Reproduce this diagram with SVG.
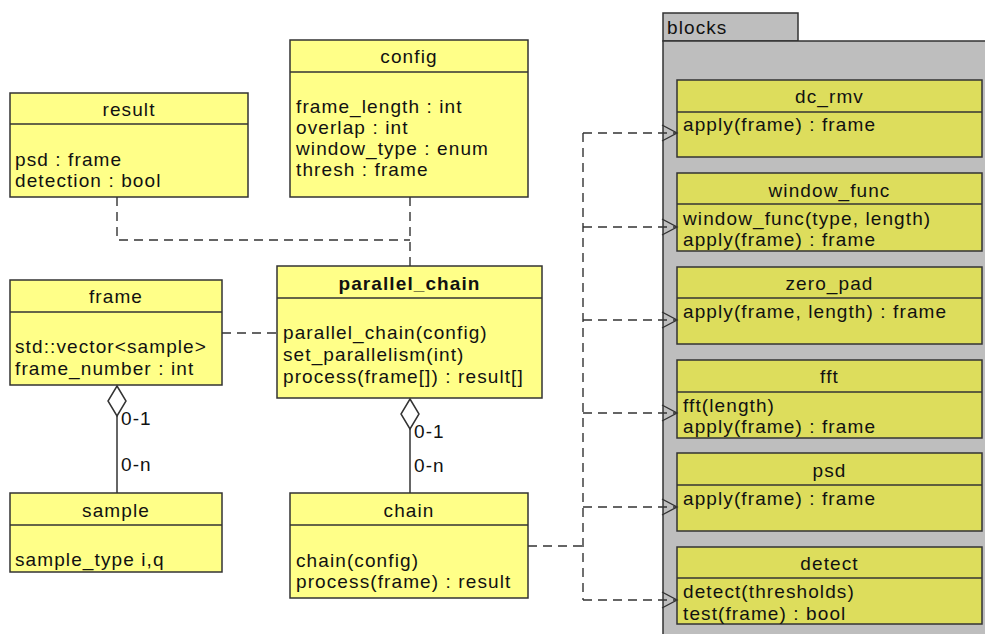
<svg xmlns="http://www.w3.org/2000/svg" width="985" height="634" viewBox="0 0 985 634">
<style>
text{font-family:"Liberation Sans",Arial,sans-serif;font-size:19px;letter-spacing:1.1px;fill:#111}
.h{text-anchor:middle}
.b{font-weight:bold}
.cls{fill:#ffff88;stroke:#333;stroke-width:1.5}
.blk{fill:#dddd5c;stroke:#333;stroke-width:1.5}
.div{stroke:#333;stroke-width:1.5}
.pkg{fill:#bebebe;stroke:#333;stroke-width:1.5}
.dash{fill:none;stroke:#333;stroke-width:1.4;stroke-dasharray:9,6}
.solid{fill:none;stroke:#333;stroke-width:1.5}
.dia{fill:#fff;stroke:#333;stroke-width:1.5}
.arr{fill:none;stroke:#333;stroke-width:1.4}
</style>
<g id="blocks">
<rect class="pkg" x="663" y="13" width="135" height="28"/>
<rect class="pkg" x="663" y="41" width="330" height="600"/>
<text x="667" y="34">blocks</text>
</g>
<g id="result">
<rect class="cls" x="10" y="93" width="238" height="104"/>
<line class="div" x1="10" y1="124" x2="248" y2="124"/>
<text class="h" x="129" y="116">result</text>
<text x="15" y="166">psd : frame</text>
<text x="15" y="187">detection : bool</text>
</g>
<g id="config">
<rect class="cls" x="290" y="40" width="238" height="157"/>
<line class="div" x1="290" y1="72" x2="528" y2="72"/>
<text class="h" x="409" y="63">config</text>
<text x="296" y="113">frame_length : int</text>
<text x="296" y="134">overlap : int</text>
<text x="296" y="155">window_type : enum</text>
<text x="296" y="176">thresh : frame</text>
</g>
<g id="frame">
<rect class="cls" x="10" y="280" width="212" height="105"/>
<line class="div" x1="10" y1="312" x2="222" y2="312"/>
<text class="h" x="116" y="303">frame</text>
<text x="15" y="353">std::vector&lt;sample&gt;</text>
<text x="15" y="375">frame_number : int</text>
</g>
<g id="sample">
<rect class="cls" x="10" y="493" width="212" height="79"/>
<line class="div" x1="10" y1="525" x2="222" y2="525"/>
<text class="h" x="116" y="517">sample</text>
<text x="15" y="566">sample_type i,q</text>
</g>
<g id="parallel_chain">
<rect class="cls" x="277" y="266" width="265" height="132"/>
<line class="div" x1="277" y1="298" x2="542" y2="298"/>
<text class="h b" x="409.5" y="290">parallel_chain</text>
<text x="283" y="339">parallel_chain(config)</text>
<text x="283" y="361">set_parallelism(int)</text>
<text x="283" y="383">process(frame[]) : result[]</text>
</g>
<g id="chain">
<rect class="cls" x="290" y="493" width="238" height="105"/>
<line class="div" x1="290" y1="525" x2="528" y2="525"/>
<text class="h" x="409" y="517">chain</text>
<text x="296" y="567">chain(config)</text>
<text x="296" y="588">process(frame) : result</text>
</g>
<g id="dc_rmv">
<rect class="blk" x="677" y="80" width="305" height="77"/>
<line class="div" x1="677" y1="112" x2="982" y2="112"/>
<text class="h" x="829.5" y="103">dc_rmv</text>
<text x="683" y="131">apply(frame) : frame</text>
</g>
<g id="window_func">
<rect class="blk" x="677" y="173" width="305" height="78"/>
<line class="div" x1="677" y1="204" x2="982" y2="204"/>
<text class="h" x="829.5" y="197">window_func</text>
<text x="683" y="225">window_func(type, length)</text>
<text x="683" y="246">apply(frame) : frame</text>
</g>
<g id="zero_pad">
<rect class="blk" x="677" y="267" width="305" height="77"/>
<line class="div" x1="677" y1="298" x2="982" y2="298"/>
<text class="h" x="829.5" y="290">zero_pad</text>
<text x="683" y="318">apply(frame, length) : frame</text>
</g>
<g id="fft">
<rect class="blk" x="677" y="360" width="305" height="78"/>
<line class="div" x1="677" y1="392" x2="982" y2="392"/>
<text class="h" x="829.5" y="383">fft</text>
<text x="683" y="412">fft(length)</text>
<text x="683" y="433">apply(frame) : frame</text>
</g>
<g id="psd">
<rect class="blk" x="677" y="453" width="305" height="78"/>
<line class="div" x1="677" y1="485" x2="982" y2="485"/>
<text class="h" x="829.5" y="477">psd</text>
<text x="683" y="505">apply(frame) : frame</text>
</g>
<g id="detect">
<rect class="blk" x="677" y="547" width="305" height="77"/>
<line class="div" x1="677" y1="578" x2="982" y2="578"/>
<text class="h" x="829.5" y="570">detect</text>
<text x="683" y="598">detect(thresholds)</text>
<text x="683" y="620">test(frame) : bool</text>
</g>
<g id="connectors">
<path class="dash" d="M117,197 V240 H410"/>
<path class="dash" d="M410,197 V266"/>
<path class="dash" d="M222,333 H277"/>
<path class="solid" d="M117,416 V493"/>
<path class="dia" d="M117,386 L126,401 L117,416 L108,401 Z"/>
<text x="121" y="425">0-1</text>
<text x="121" y="471">0-n</text>
<path class="solid" d="M410,429 V493"/>
<path class="dia" d="M410,399 L419,414 L410,429 L401,414 Z"/>
<text x="414" y="438">0-1</text>
<text x="414" y="472">0-n</text>
<path class="dash" d="M528,546 H583"/>
<path class="dash" d="M583,133 V600"/>
<path class="dash" d="M583,133 H677 M583,227 H677 M583,320 H677 M583,413 H677 M583,507 H677 M583,600 H677"/>
<path class="arr" d="M662,125 L677,133 L662,141 M662,219 L677,227 L662,235 M662,312 L677,320 L662,328 M662,405 L677,413 L662,421 M662,499 L677,507 L662,515 M662,592 L677,600 L662,608"/>
</g>
</svg>
